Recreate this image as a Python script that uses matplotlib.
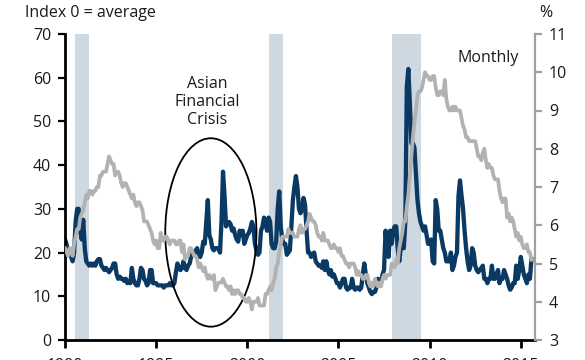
import numpy as np
import matplotlib.pyplot as plt
from matplotlib.patches import Ellipse

plt.rcParams['font.family'] = ['Open Sans', 'DejaVu Sans']

# monthly data, Jan 1990 onwards
START_YEAR = 1990

stress_index = [
    23, 22, 20, 20, 19, 18, 20, 27, 30, 30, 25, 23,                  # 1990
    27.5, 21, 18, 17.5, 17, 17.5, 17, 17.5, 17, 18, 18.5, 18.5,      # 1991
    17, 16.5, 16, 16.5, 16, 15.5, 16, 16.5, 17.5, 17.5, 15, 14,      # 1992
    14.5, 14, 14, 13.5, 14, 13, 13.5, 13, 16.5, 14, 13, 12.5,        # 1993
    12.5, 14, 16.5, 16, 14, 13.5, 12.5, 13, 16, 16, 13, 13,          # 1994
    13, 12.5, 12.5, 12.5, 12.5, 12, 12.5, 12.5, 12.5, 13, 12.5, 12.5,  # 1995
    13, 15.5, 17.5, 16.5, 16, 16.5, 18, 16.5, 16, 17, 17.5, 19,      # 1996
    20, 19.5, 20.5, 21, 19.5, 19, 20, 22.5, 22, 27, 32, 24,          # 1997
    23, 21, 20.5, 21, 21, 21, 20, 27, 38.5, 33, 26, 26.5,            # 1998
    27, 26.5, 25, 25.5, 24, 23, 22.5, 25, 24, 25, 22, 23,            # 1999
    24, 24.5, 25.5, 27, 26, 22, 20.5, 19.5, 20, 25, 26, 28,          # 2000
    26.5, 25, 28, 27, 22, 21, 21, 22.5, 30, 34, 26, 23,              # 2001
    22, 22, 19.5, 20, 20.5, 26, 32, 35, 37.5, 35, 30, 29,            # 2002
    30, 32.5, 31, 25, 20, 20, 19, 19.5, 20, 18, 17.5, 17,            # 2003
    17, 16.5, 18, 16, 18, 16, 15, 16, 14.5, 15, 14, 13,              # 2004
    13, 12, 13, 14, 14, 12, 11.5, 12, 12, 14, 12, 11.5,              # 2005
    12, 12, 11.5, 12, 15, 17.5, 15, 13, 12, 11, 10.5, 11,            # 2006
    11, 12, 14, 13, 13, 15, 16, 25, 21, 19, 25, 22,                  # 2007
    25, 26, 26, 21, 18, 21, 23, 21, 27, 58, 62, 54,                  # 2008
    45, 45, 44, 38, 32, 29, 27, 26, 25, 26, 24, 22,                  # 2009
    22, 23, 18, 17.5, 32, 30, 25, 25, 23, 21, 20, 18,                # 2010
    18, 18, 20, 16, 17, 19, 20, 33, 36.5, 33, 30, 25,                # 2011
    21, 18, 16, 17, 21, 20, 17, 16, 15.5, 16, 16.5, 17,              # 2012
    14, 14, 13, 14, 14, 17, 14, 14, 15, 16, 13, 14,                  # 2013
    14, 16, 15, 14, 12.5, 11.5, 12, 13, 13, 17, 14, 16,              # 2014
    19, 17, 15, 14, 13, 15, 14, 18.5,                                # 2015
]

unemployment_rate = [
    5.4, 5.3, 5.2, 5.4, 5.4, 5.2, 5.5, 5.7, 5.9, 5.9, 6.2, 6.3,
    6.4, 6.6, 6.8, 6.7, 6.9, 6.9, 6.8, 6.9, 6.9, 7.0, 7.0, 7.3,
    7.3, 7.4, 7.4, 7.4, 7.6, 7.8, 7.7, 7.6, 7.6, 7.3, 7.4, 7.4,
    7.3, 7.1, 7.0, 7.1, 7.1, 7.0, 6.9, 6.8, 6.7, 6.8, 6.6, 6.5,
    6.6, 6.6, 6.5, 6.4, 6.1, 6.1, 6.1, 6.0, 5.9, 5.8, 5.6, 5.5,
    5.6, 5.4, 5.4, 5.8, 5.6, 5.6, 5.7, 5.7, 5.6, 5.5, 5.6, 5.6,
    5.6, 5.5, 5.5, 5.6, 5.6, 5.3, 5.5, 5.1, 5.2, 5.2, 5.4, 5.4,
    5.3, 5.2, 5.2, 5.1, 4.9, 5.0, 4.9, 4.8, 4.9, 4.7, 4.6, 4.7,
    4.6, 4.6, 4.7, 4.3, 4.4, 4.5, 4.5, 4.5, 4.6, 4.5, 4.4, 4.4,
    4.3, 4.4, 4.2, 4.3, 4.2, 4.3, 4.3, 4.2, 4.2, 4.1, 4.1, 4.0,
    4.0, 4.1, 4.0, 3.8, 4.0, 4.0, 4.0, 4.1, 3.9, 3.9, 3.9, 3.9,
    4.2, 4.2, 4.3, 4.4, 4.3, 4.5, 4.6, 4.9, 5.0, 5.3, 5.5, 5.7,
    5.7, 5.7, 5.7, 5.9, 5.8, 5.8, 5.8, 5.7, 5.7, 5.7, 5.9, 6.0,
    5.8, 5.9, 5.9, 6.0, 6.1, 6.3, 6.2, 6.1, 6.1, 6.0, 5.8, 5.7,
    5.7, 5.6, 5.8, 5.6, 5.6, 5.6, 5.5, 5.4, 5.4, 5.5, 5.4, 5.4,
    5.3, 5.4, 5.2, 5.2, 5.1, 5.0, 5.0, 4.9, 5.0, 5.0, 5.0, 4.9,
    4.7, 4.8, 4.7, 4.7, 4.6, 4.6, 4.7, 4.7, 4.5, 4.4, 4.5, 4.4,
    4.6, 4.5, 4.4, 4.5, 4.4, 4.6, 4.7, 4.6, 4.7, 4.7, 4.7, 5.0,
    5.0, 4.9, 5.1, 5.0, 5.4, 5.6, 5.8, 6.1, 6.1, 6.5, 6.8, 7.3,
    7.8, 8.3, 8.7, 9.0, 9.4, 9.5, 9.5, 9.6, 9.8, 10.0, 9.9, 9.9,
    9.8, 9.8, 9.9, 9.9, 9.6, 9.4, 9.4, 9.5, 9.5, 9.4, 9.8, 9.3,
    9.1, 9.0, 9.0, 9.1, 9.0, 9.1, 9.0, 9.0, 9.0, 8.8, 8.6, 8.5,
    8.3, 8.3, 8.2, 8.2, 8.2, 8.2, 8.2, 8.0, 7.8, 7.8, 7.7, 7.9,
    8.0, 7.7, 7.5, 7.6, 7.5, 7.5, 7.3, 7.2, 7.2, 7.2, 6.9, 6.7,
    6.6, 6.7, 6.7, 6.2, 6.3, 6.1, 6.2, 6.1, 5.9, 5.7, 5.8, 5.6,
    5.7, 5.5, 5.4, 5.4, 5.5, 5.3, 5.3, 5.1,
]

recessions = [(1990.55, 1991.3), (2001.2, 2001.95), (2007.95, 2009.55)]

left_ticks = [0, 10, 20, 30, 40, 50, 60, 70]
right_ticks = [3, 4, 5, 6, 7, 8, 9, 10, 11]
year_ticks = [1990, 1995, 2000, 2005, 2010, 2015]

BLUE = '#0a3a64'
GREY = '#b2b2b2'
SHADE = '#cdd8e1'
TXT = '#1a1a1a'
FS = 11.5

W, H = 585, 360
fig = plt.figure(figsize=(W / 100, H / 100), dpi=100)
ax = fig.add_axes([65 / W, 1 - 340 / H, (535 - 65) / W, (340 - 34) / H])
ax2 = ax.twinx()

x = START_YEAR + np.arange(len(stress_index)) / 12
x_u = START_YEAR + np.arange(len(unemployment_rate)) / 12

for a, b in recessions:
    ax.axvspan(a, b, color=SHADE, lw=0, zorder=0)

ax.plot(x, stress_index, color=BLUE, lw=3.1, solid_joinstyle='round', zorder=2)
ax2.plot(x_u, unemployment_rate, color=GREY, lw=2.7, solid_joinstyle='round', zorder=2)

ax.add_patch(Ellipse((1998.0, 24.6), 5.0, 43.1, fill=False, ec='black', lw=1.3, zorder=3))

ax.set_xlim(1990, 2015.78)
ax.set_ylim(0, 70)
ax2.set_ylim(3, 11)
ax.set_xticks(year_ticks)
ax.set_yticks(left_ticks)
ax2.set_yticks(right_ticks)

for s in ['top', 'right']:
    ax.spines[s].set_visible(False)
for s in ['top', 'left', 'bottom']:
    ax2.spines[s].set_visible(False)
ax.spines['left'].set_linewidth(2)
ax.spines['bottom'].set_linewidth(2)
ax2.spines['right'].set_color('#a0a0a0')
ax2.spines['right'].set_linewidth(1.6)

ax.tick_params(axis='y', length=5, width=1.6, labelsize=FS, labelcolor=TXT, pad=5)
ax.tick_params(axis='x', length=6, width=2, labelsize=FS, labelcolor=TXT, pad=7)
ax2.tick_params(axis='y', length=5, width=1.6, color='#a0a0a0', labelsize=FS,
                labelcolor=TXT, pad=5)

fig.text(25 / W, 1 - 13 / H, 'Index 0 = average', fontsize=FS, color=TXT,
         ha='left', va='center')
fig.text(546 / W, 1 - 13 / H, '%', fontsize=FS, color=TXT, ha='center', va='center')
fig.text(488 / W, 1 - 58 / H, 'Monthly', fontsize=FS, color=TXT, ha='center', va='center')
fig.text(207 / W, 1 - 102 / H, 'Asian\nFinancial\nCrisis', fontsize=FS, color=TXT,
         ha='center', va='center', linespacing=1.2)

fig.savefig('out.png', dpi=100)
